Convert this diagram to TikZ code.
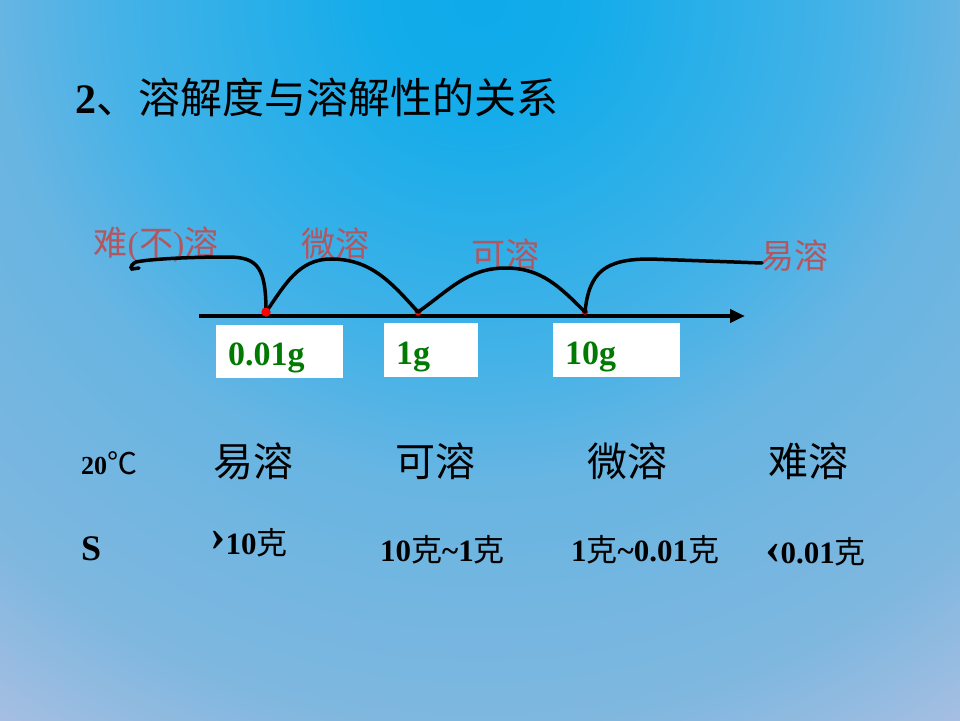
\documentclass[tikz,border=0pt]{standalone}
\usepackage{fontspec}
\setmainfont{Liberation Serif}
\newfontfamily\cjk{Noto Sans CJK SC}
\usetikzlibrary{arrows.meta}

\definecolor{labelred}{RGB}{178,86,96}
\definecolor{massgreen}{RGB}{0,122,0}
\pgfdeclareradialshading{slidebg}{\pgfpoint{0bp}{0bp}}{%
  color(0bp)=(rgb,255:red,14;green,170;blue,234);
  color(3bp)=(rgb,255:red,20;green,172;blue,234);
  color(10bp)=(rgb,255:red,68;green,178;blue,231);
  color(13.5bp)=(rgb,255:red,104;green,181;blue,226);
  color(20bp)=(rgb,255:red,126;green,183;blue,223);
  color(24bp)=(rgb,255:red,165;green,190;blue,226);
  color(50bp)=(rgb,255:red,170;green,190;blue,226)}

\newcommand\zh[1]{{\cjk\mdseries #1}}
\newcommand\bigmark[2]{\raisebox{#1}{\fontsize{46}{46}\selectfont #2}}

\begin{document}
\begin{tikzpicture}[x=1pt,y=-1pt,
    soltag/.style={inner sep=0pt, text=labelred, font=\fontsize{34}{38}\selectfont},
    massbox/.style={anchor=north west, fill=white, inner xsep=12pt, inner ysep=0pt,
      minimum height=54pt, text height=28pt, text depth=0pt, align=left,
      text=massgreen, font=\bfseries\fontsize{34}{38}\selectfont},
    hop/.style={line width=3.5pt, line cap=round},
    rowhead/.style={inner sep=0pt, font=\cjk\fontsize{40}{44}\selectfont},
    rowval/.style={anchor=west, inner sep=0pt, font=\bfseries\fontsize{31}{34}\selectfont}]
  \useasboundingbox (0,0) rectangle (960,720);
  % Background
  \begin{scope}
    \clip (0,0) rectangle (960,720);
    \shade[shading=slidebg] (480,0) circle (900pt);
  \end{scope}
  % Title
  \node (title) at (75,97) [anchor=west, inner sep=0pt, font=\fontsize{42}{48}\selectfont]
    {\textbf{2}\zh{、溶解度与溶解性的关系}};
  % Axis and points (left to right)
  \coordinate (axl) at (199,316);
  \coordinate (axr) at (745,316);
  \draw[line width=4pt, -{Triangle[length=15pt,width=13pt]}] (axl) -- (axr);
  \node (d1) at (266,312) [circle, fill=red, inner sep=0pt, minimum size=9pt] {};
  \node (d2) at (418,312) [circle, fill=red, inner sep=0pt, minimum size=7pt] {};
  \node (d3) at (585,312) [circle, fill=red!70!black, inner sep=0pt, minimum size=6pt] {};
  % Boxes under the axis
  \node (b1) at (216,325) [massbox, text width=103pt, minimum height=53pt] {0.01g};
  \node (b2) at (384,323) [massbox, text width=70pt] {1g};
  \node (b3) at (553,323) [massbox, text width=103pt] {10g};
  % Labels over the jumps
  \node (hard) at (156,245) [soltag] {\zh{难}(\zh{不})\zh{溶}};
  \node (slight) at (335,244) [soltag] {\zh{微溶}};
  \node (sol) at (505,254) [soltag] {\zh{可溶}};
  \node (easy) at (794,256) [soltag] {\zh{易溶}};
  \coordinate (l1) at (136,262);
  \coordinate (r4) at (762,263);
  % Jumps
  \draw[hop] (d1.center) .. controls (266,268) and (258,257) .. (228,257)
    .. controls (190,257) and (150,259) .. (l1) to[out=200,in=150] (132,269) -- (139,268);
  \draw[hop] (d1.center) to[out=55,in=180] (331,259) to[out=0,in=132] (d2.center);
  \draw[hop] (d2.center) to[out=35,in=180] (506,268) to[out=0,in=135] (d3.center);
  \draw[hop] (d3.center) .. controls (589,272) and (605,259) .. (650,259) -- (r4);
  \node (d1top) at (266,312) [circle, fill=red, inner sep=0pt, minimum size=9pt] {};
  % Table
  \node (temp) at (81,463) [rowval, font=\bfseries\fontsize{26}{30}\selectfont]
    {20{\fontsize{30}{30}\selectfont\zh{℃}}};
  \node (h1) at (253,461) [rowhead] {易溶};
  \node (h2) at (435,461) [rowhead] {可溶};
  \node (h3) at (627,461) [rowhead] {微溶};
  \node (h4) at (808,461) [rowhead] {难溶};
  \node (s) at (81,549) [rowval, font=\bfseries\fontsize{36}{40}\selectfont] {S};
  \node (v1) at (210,543) [rowval] {\bigmark{4pt}{›}10\zh{克}};
  \node (v2) at (380,550) [rowval] {10\zh{克}\textasciitilde 1\zh{克}};
  \node (v3) at (571,550) [rowval] {1\zh{克}\textasciitilde 0.01\zh{克}};
  \node (v4) at (765,552) [rowval] {\bigmark{0pt}{‹}0.01\zh{克}};
\end{tikzpicture}
\end{document}
